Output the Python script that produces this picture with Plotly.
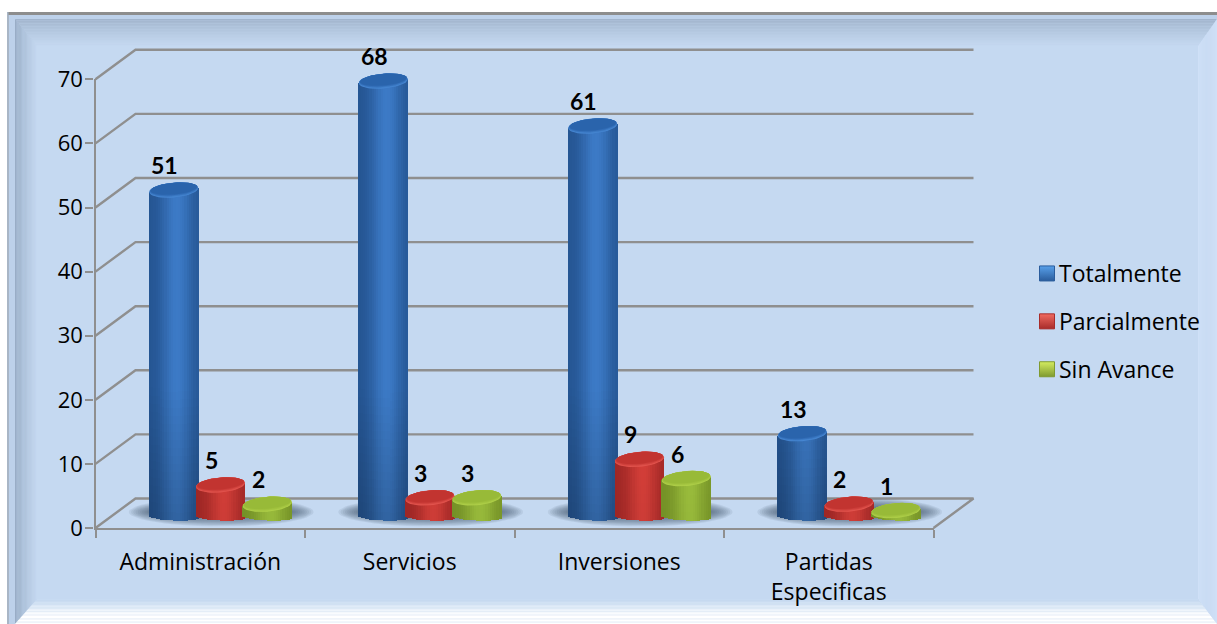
import math
import plotly.graph_objects as go

# ---- data ----
categories = ["Administración", "Servicios", "Inversiones", "Partidas<br>Especificas"]
totalmente = [51, 68, 61, 13]
parcialmente = [5, 3, 9, 2]
sin_avance = [2, 3, 6, 1]
series_names = ["Totalmente", "Parcialmente", "Sin Avance"]
y_ticks = [0, 10, 20, 30, 40, 50, 60, 70]

# ---- geometry / style ----
W, H = 1217, 624
L, R_PX, T, B = 95.5, 933.5, 79.3, 528
px_x = (R_PX - L) / 4
px_y = (B - T) / 70
DEPTH_X = 40 / px_x
DEPTH_Y = 29.5 / px_y
FLOOR_PX = 517            # pixel row of a cylinder's base centre
OFFS = [0.3735, 0.5965, 0.82]
BW = 49 / px_x
STYLES = [
    dict(edge=(36, 84, 145), mid=(60, 122, 198), cap=(42, 100, 172), rim=(70, 134, 210), legend_top="#58a0ea", legend="#2a5c9c"),
    dict(edge=(165, 40, 38), mid=(218, 64, 58), cap=(194, 52, 48), rim=(226, 84, 78), legend_top="#f06a60", legend="#a82c2a"),
    dict(edge=(122, 152, 40), mid=(160, 196, 62), cap=(152, 186, 56), rim=(174, 206, 72), legend_top="#d4ec60", legend="#7f9a30"),
]
GRID = "#8f8f8f"
LABEL_FONT = "Open Sans"


def hexc(c):
    return "rgb(%d,%d,%d)" % tuple(max(0, min(255, round(v))) for v in c)


def lerp(a, b, t):
    return tuple(a[i] + (b[i] - a[i]) * t for i in range(3))


# ---- background bevel as paper shapes ----
shapes = []


def poly(pts, color):
    d = "M" + " L".join("%.5f,%.5f" % (x / W, 1 - y / H) for x, y in pts) + " Z"
    shapes.append(dict(type="path", xref="paper", yref="paper", path=d, fillcolor=color,
                       line=dict(width=0), layer="below"))


MAIN = (197, 217, 241)
poly([(7, 12), (W, 12), (W, H), (7, H)], "#a9b6c6")
poly([(8.5, 12), (W, 12), (W, 15), (8.5, 15)], "#8d8d8d")
poly([(9, 15), (W, 15), (W, H), (9, H)], "#bdd1ea")
x0, y0, x1, y1 = 15, 19, W, H
wl, wt, wr, wb = 22, 27, 19, 25
N = 18
TOP_C, LEFT_C, RIGHT_C, BOT_C = (160, 179, 203), (150, 170, 195), (207, 224, 247), (255, 255, 255)
for i in range(N):
    t0, t1 = i / N, (i + 1) / N
    rect = lambda t: (x0 + wl * t, y0 + wt * t, x1 - wr * t, y1 - wb * t)
    a, b = rect(t0), rect(t1)
    k = (i + 0.5) / N
    poly([(a[0], a[1]), (a[2], a[1]), (b[2], b[1]), (b[0], b[1])], hexc(lerp(TOP_C, MAIN, k ** 0.8)))
    poly([(a[0], a[1]), (b[0], b[1]), (b[0], b[3]), (a[0], a[3])], hexc(lerp(LEFT_C, MAIN, k ** 0.8)))
    poly([(a[2], a[1]), (b[2], b[1]), (b[2], b[3]), (a[2], a[3])], hexc(RIGHT_C))
    poly([(a[0], a[3]), (a[2], a[3]), (b[2], b[3]), (b[0], b[3])], hexc(lerp(BOT_C, MAIN, min(1, max(0, (k - 0.35) / 0.65)))))
poly([(37, 46), (W - 19, 46), (W - 19, H - 25), (37, H - 25)], hexc(MAIN))

fig = go.Figure()

# keep the native axes in the first subplot
fig.add_trace(go.Scatter(x=[None], y=[None], xaxis="x", yaxis="y", showlegend=False, hoverinfo="skip"))

# ---- full-canvas scale: same units as the native axes ----
gx_range = [-L / px_x, (W - L) / px_x]
gy_range = [-(H - B) / px_y, B / px_y]
# ---- same again, with zero on the cylinder base row ----
bars_y_range = [-(H - FLOOR_PX) / px_y, FLOOR_PX / px_y]
FLOOR_V = (B - FLOOR_PX) / px_y

for v in y_ticks:
    fig.add_trace(go.Scatter(
        x=[0, DEPTH_X, 4 + DEPTH_X] + ([4] if v == 0 else []),
        y=[v, v + DEPTH_Y, v + DEPTH_Y] + ([0] if v == 0 else []),
        mode="lines", line=dict(color=GRID, width=2.4), xaxis="x2", yaxis="y2",
        showlegend=False, hoverinfo="skip"))


def ellipse(cx, cy, a_px, b_px, tilt_px=0.0, n=48):
    xs, ys = [], []
    for j in range(n + 1):
        th = 2 * math.pi * j / n
        c, s = math.cos(th), math.sin(th)
        xs.append(cx + a_px * c / px_x)
        ys.append(cy + (b_px * s + tilt_px * c) / px_y)
    return xs, ys


# floor shadows
for c in range(4):
    cx = c + 0.6
    for k in range(12, 0, -1):
        xs, ys = ellipse(cx, FLOOR_V + 5 / px_y, 66 + 2.2 * k, 3 + 0.95 * k)
        fig.add_trace(go.Scatter(x=xs, y=ys, mode="lines", fill="toself", line=dict(width=0),
                                 fillcolor="rgba(70,85,110,0.10)", showlegend=False,
                                 hoverinfo="skip", xaxis="x2", yaxis="y2"))

# ---- cylinders ----
NS = 22
SLICE_PX = 8
TILT = 2.0
all_values = [totalmente, parcialmente, sin_avance]
for s, vals in enumerate(all_values):
    st = STYLES[s]
    xs, ys, bases, widths, colors = [], [], [], [], []
    for c, v in enumerate(vals):
        cx = c + OFFS[s]
        low = 0.82 if v * px_y > 70 else 0.94
        for i in range(NS):
            u = -1 + (2 * i + 1) / NS
            prof = math.exp(-((u - 0.15) / 0.62) ** 2)
            bottom = -(3.5 * math.sqrt(max(0, 1 - u * u)) + TILT * u * 0.5) / px_y
            top = v + TILT * u / px_y
            nv = max(2, int((top - bottom) * px_y / SLICE_PX))
            col = lerp(st["edge"], st["mid"], prof)
            for j in range(nv):
                y0s = bottom + (top - bottom) * j / nv
                y1s = bottom + (top - bottom) * (j + 1) / nv
                rise_px = (y0s + y1s) / 2 * px_y
                shade = low + (1 - low) * min(1.0, max(0.0, rise_px) / 130.0)
                xs.append(cx + u * BW / 2)
                bases.append(y0s)
                ys.append(y1s - y0s)
                widths.append(BW / NS * 1.35)
                colors.append(hexc(tuple(q * shade for q in col)))
    fig.add_trace(go.Bar(x=xs, y=ys, base=bases, width=widths, name=series_names[s],
                         marker=dict(color=colors, line=dict(width=0)),
                         xaxis="x3", yaxis="y3", showlegend=False, hoverinfo="skip"))

for s, vals in enumerate(all_values):
    st = STYLES[s]
    for c, v in enumerate(vals):
        cx = c + OFFS[s]
        LAYERS = 5
        for q in range(LAYERS):
            t = q / (LAYERS - 1)
            ax, ay = ellipse(cx, v + 1.4 * t / px_y, BW / 2 * px_x - 1.2 * t, 7.5 - 1.6 * t, TILT)
            fig.add_trace(go.Scatter(x=ax, y=ay, mode="lines", fill="toself", line=dict(width=0),
                                     fillcolor=hexc(lerp(st["rim"], st["cap"], t)),
                                     xaxis="x3", yaxis="y3", showlegend=False, hoverinfo="skip"))

# ---- legend ----
for s, name in enumerate(series_names):
    st = STYLES[s]
    fig.add_trace(go.Scatter(
        x=[None], y=[None], mode="markers", name=name, legendgroup=name,
        marker=dict(symbol="square", size=15, color=st["legend_top"],
                    gradient=dict(type="vertical", color=st["legend"]),
                    line=dict(width=1, color=st["legend"]))))

# ---- data labels ----
annotations = []
for s, vals in enumerate(all_values):
    for c, v in enumerate(vals):
        annotations.append(dict(x=c + OFFS[s], y=v, xref="x3", yref="y3", text=str(v), showarrow=False,
                                xshift=-9, yshift=25, yanchor="middle", xanchor="center",
                                font=dict(family="Lato", size=23, color="black", weight="bold")))

hidden = dict(visible=False, fixedrange=True)
fig.update_layout(
    width=W, height=H, autosize=False,
    margin=dict(l=0, r=0, t=0, b=0, pad=0, autoexpand=False),
    paper_bgcolor="white", plot_bgcolor="rgba(0,0,0,0)",
    font=dict(family=LABEL_FONT, size=23, color="black"),
    barmode="overlay", bargap=0,
    shapes=shapes, annotations=annotations,
    xaxis=dict(domain=[L / W, R_PX / W], range=[0, 4], anchor="y", tickmode="array",
               tickvals=[0.5, 1.5, 2.5, 3.5], ticktext=categories,
               ticks="", showgrid=False, showline=True, linecolor=GRID, linewidth=2.4, zeroline=False,
               ticklabelstandoff=12,
               minor=dict(tickmode="array", tickvals=[0, 1, 2, 3, 4], ticks="outside", ticklen=8,
                          tickwidth=2, tickcolor=GRID, showgrid=False)),
    yaxis=dict(domain=[1 - B / H, 1 - T / H], range=[0, 70], anchor="x", tickmode="array", tickvals=y_ticks,
               ticks="outside", ticklen=8, tickwidth=2, tickfont=dict(size=22), ticklabelstandoff=-2,
               tickcolor=GRID, showgrid=False, showline=True, linecolor=GRID, linewidth=2.4, zeroline=False),
    xaxis2=dict(domain=[0, 1], range=gx_range, anchor="y2", **hidden),
    yaxis2=dict(domain=[0, 1], range=gy_range, anchor="x2", **hidden),
    xaxis3=dict(domain=[0, 1], range=gx_range, anchor="y3", **hidden),
    yaxis3=dict(domain=[0, 1], range=bars_y_range, anchor="x3", **hidden),
    legend=dict(x=1019 / W, y=1 - 252 / H, xanchor="left", yanchor="top", bgcolor="rgba(0,0,0,0)",
                tracegroupgap=15, font=dict(family=LABEL_FONT, size=23)),
)
post = """
document.body.style.margin='0';document.documentElement.style.overflow='hidden';
function nudge(){document.querySelectorAll('.legend .legendsymbols').forEach(function(g){g.setAttribute('transform','translate(8,0)');});}
nudge();setTimeout(nudge,0);setTimeout(nudge,200);
"""
fig.write_html("out.html", config={"displayModeBar": False}, post_script=post)
